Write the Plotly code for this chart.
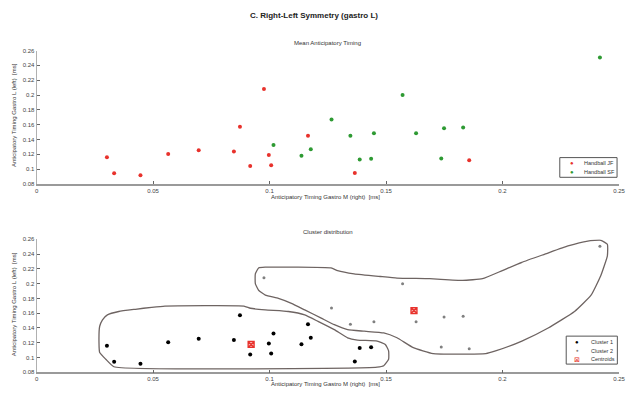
import plotly.graph_objects as go

# ---------------- data ----------------
jf_x = [0.0302, 0.0333, 0.0446, 0.0565, 0.0696, 0.0847, 0.0873, 0.0917, 0.0976, 0.0997, 0.1007, 0.1165, 0.1366, 0.1857]
jf_y = [0.116, 0.0943, 0.0916, 0.1205, 0.1253, 0.1236, 0.1573, 0.104, 0.208, 0.119, 0.1053, 0.145, 0.0947, 0.112]
jf_cluster = [1, 1, 1, 1, 1, 1, 1, 1, 2, 1, 1, 1, 1, 2]

sf_x = [0.1017, 0.1137, 0.1177, 0.1266, 0.1347, 0.1387, 0.1436, 0.1448, 0.1571, 0.1629, 0.1737, 0.1749, 0.1831, 0.2418]
sf_y = [0.1325, 0.118, 0.1267, 0.167, 0.145, 0.113, 0.1139, 0.1485, 0.200, 0.1485, 0.1143, 0.155, 0.156, 0.2507]
sf_cluster = [1, 1, 1, 2, 2, 1, 1, 2, 2, 2, 2, 2, 2, 2]

centroid_x = [0.0921, 0.1620]
centroid_y = [0.1177, 0.1636]

contour1_x = [0.0332, 0.0297, 0.0271, 0.0268, 0.0271, 0.0283, 0.0304, 0.0353, 0.0424, 0.0494, 0.0551,
              0.0890, 0.0918, 0.0982, 0.1081, 0.1151, 0.1208, 0.1278, 0.1335, 0.1377, 0.1462, 0.1497,
              0.1511, 0.1511, 0.1490, 0.1462, 0.0332]
contour1_y = [0.0875, 0.0977, 0.1067, 0.1200, 0.1423, 0.1511, 0.1577, 0.1623, 0.1653, 0.1680, 0.1697,
              0.1697, 0.1667, 0.1644, 0.1623, 0.1577, 0.1489, 0.1377, 0.1267, 0.1236, 0.1223, 0.1177,
              0.1089, 0.0977, 0.0889, 0.0870, 0.0875]

contour2_x = [0.0953, 0.0939, 0.0939, 0.0953, 0.0982, 0.1038, 0.1094, 0.1151, 0.1222, 0.1278, 0.1335,
              0.1406, 0.1490, 0.1547, 0.1617, 0.1702, 0.1928, 0.1970, 0.2083, 0.2196, 0.2309, 0.2380,
              0.2422, 0.2450, 0.2450, 0.2422, 0.2366, 0.2281, 0.2182, 0.2083, 0.1999, 0.1914, 0.1829,
              0.1688, 0.1547, 0.1476, 0.1363, 0.1292, 0.1264, 0.0982, 0.0953]
contour2_y = [0.2213, 0.2133, 0.2000, 0.1911, 0.1844, 0.1800, 0.1733, 0.1644, 0.1533, 0.1444, 0.1377,
              0.1356, 0.1333, 0.1267, 0.1133, 0.1053, 0.1053, 0.1089, 0.1223, 0.1400, 0.1623, 0.1844,
              0.2111, 0.2377, 0.2533, 0.2587, 0.2577, 0.2511, 0.2400, 0.2289, 0.2177, 0.2067, 0.2044,
              0.2067, 0.2076, 0.2097, 0.2133, 0.2177, 0.2213, 0.2223, 0.2213]

x_ticks = [0, 0.05, 0.1, 0.15, 0.2, 0.25]
x_ticklabels = ["0", "0.05", "0.1", "0.15", "0.2", "0.25"]
y_ticks = [0.08, 0.1, 0.12, 0.14, 0.16, 0.18, 0.2, 0.22, 0.24, 0.26]
y_ticklabels = ["0.08", "0.1", "0.12", "0.14", "0.16", "0.18", "0.2", "0.22", "0.24", "0.26"]

main_title = "C. Right-Left Symmetry (gastro L)"
top_title = "Mean Anticipatory Timing"
bottom_title = "Cluster distribution"
x_title = "Anticipatory Timing Gastro M (right)  [ms]"
y_title = "Anticipatory Timing Gastro L (left)  [ms]"
top_legend_names = ["Handball JF", "Handball SF"]
bottom_legend_names = ["Cluster 1", "Cluster 2", "Centroids"]

# ---------------- figure ----------------
W, H = 627, 393
FONT = "Liberation Sans, Arial, sans-serif"
RED = "#e8322c"
GREEN = "#2e9a33"
GRAY = "#808080"
CONTOUR = "#6e6462"

all_x = jf_x + sf_x
all_y = jf_y + sf_y
all_c = jf_cluster + sf_cluster
c1_x = [x for x, c in zip(all_x, all_c) if c == 1]
c1_y = [y for y, c in zip(all_y, all_c) if c == 1]
c2_x = [x for x, c in zip(all_x, all_c) if c == 2]
c2_y = [y for y, c in zip(all_y, all_c) if c == 2]

fig = go.Figure()

# top panel
fig.add_trace(go.Scatter(x=jf_x, y=jf_y, mode="markers", name=top_legend_names[0],
                         marker=dict(color=RED, size=4), xaxis="x", yaxis="y"))
fig.add_trace(go.Scatter(x=sf_x, y=sf_y, mode="markers", name=top_legend_names[1],
                         marker=dict(color=GREEN, size=4), xaxis="x", yaxis="y"))

# bottom panel
for cx, cy in ((contour1_x, contour1_y), (contour2_x, contour2_y)):
    fig.add_trace(go.Scatter(x=cx, y=cy, mode="lines",
                             line=dict(color=CONTOUR, width=1.3, shape="spline", smoothing=0.4),
                             xaxis="x2", yaxis="y2", hoverinfo="skip"))
fig.add_trace(go.Scatter(x=c1_x, y=c1_y, mode="markers", name=bottom_legend_names[0],
                         marker=dict(color="#000000", size=4), xaxis="x2", yaxis="y2"))
fig.add_trace(go.Scatter(x=c2_x, y=c2_y, mode="markers", name=bottom_legend_names[1],
                         marker=dict(color=GRAY, size=3), xaxis="x2", yaxis="y2"))
fig.add_trace(go.Scatter(x=centroid_x, y=centroid_y, mode="markers", name=bottom_legend_names[2],
                         marker=dict(color="rgba(232,50,44,0.35)", size=6, symbol="square-x",
                                     line=dict(color=RED, width=1.3)),
                         xaxis="x2", yaxis="y2"))

x_dom = [35 / W, 625 / W]
top_dom = [(H - 183.7) / H, (H - 48.3) / H]
bot_dom = [(H - 375) / H, (H - 240) / H]

axis_common = dict(showgrid=False, zeroline=False, showline=True, linecolor="#9a9a9a", linewidth=1.5,
                   ticks="inside", ticklen=3, tickcolor="#666", tickwidth=1,
                   tickfont=dict(family=FONT, size=6, color="#444"), mirror=False,
                   ticklabeloverflow="allow")
y_axis_extra = dict(linewidth=1, linecolor="#b0b0b0")

fig.update_layout(
    width=W, height=H, margin=dict(l=0, r=0, t=0, b=0),
    paper_bgcolor="white", plot_bgcolor="white",
    font=dict(family=FONT, size=6, color="#333"),
    showlegend=False,
    xaxis=dict(domain=x_dom, anchor="y", range=[0, 0.25], tickvals=x_ticks, ticktext=x_ticklabels, **axis_common),
    yaxis=dict(domain=top_dom, anchor="x", range=[0.08, 0.26], tickvals=y_ticks, ticktext=y_ticklabels,
               **{**axis_common, **y_axis_extra}),
    xaxis2=dict(domain=x_dom, anchor="y2", range=[0, 0.25], tickvals=x_ticks, ticktext=x_ticklabels, **axis_common),
    yaxis2=dict(domain=bot_dom, anchor="x2", range=[0.08, 0.26], tickvals=y_ticks, ticktext=y_ticklabels,
                **{**axis_common, **y_axis_extra}),
)

def px(xp):
    return xp / W

def py(yp):
    return (H - yp) / H

ann = [
    dict(text="<b>" + main_title + "</b>", x=px(316), y=py(12.5), font=dict(size=8, color="#222")),
    dict(text=top_title, x=px(330), y=py(41), font=dict(size=6, color="#333")),
    dict(text=bottom_title, x=px(330), y=py(233), font=dict(size=6, color="#333")),
    dict(text=x_title, x=px(328), y=py(197), font=dict(size=6, color="#333")),
    dict(text=x_title, x=px(328), y=py(387), font=dict(size=6, color="#333")),
    dict(text=y_title, x=px(12), y=py(114), textangle=-90, font=dict(size=6, color="#333")),
    dict(text=y_title, x=px(12), y=py(306), textangle=-90, font=dict(size=6, color="#333")),
]

shapes = []
# top legend (box + entries)
shapes.append(dict(type="rect", xref="paper", yref="paper", x0=px(565), x1=px(623), y0=py(177), y1=py(157),
                   line=dict(color="#555", width=1), fillcolor="white", layer="above"))
top_leg_sym = [("●", RED, 6), ("●", GREEN, 6)]
for i, (name, (sym, col, fs)) in enumerate(zip(top_legend_names, top_leg_sym)):
    yy = py(162.5 + i * 9.3)
    ann.append(dict(text=sym, x=px(577), y=yy, font=dict(size=fs, color=col)))
    ann.append(dict(text=name, x=px(588), y=yy, xanchor="left", font=dict(size=5.5, color="#333")))

# bottom legend
shapes.append(dict(type="rect", xref="paper", yref="paper", x0=px(571.5), x1=px(623.3), y0=py(366.7), y1=py(338.3),
                   line=dict(color="#555", width=1), fillcolor="white", layer="above"))
bot_leg_sym = [("●", "#000000", 6), ("●", GRAY, 4.5), ("⊠", RED, 7)]
for i, (name, (sym, col, fs)) in enumerate(zip(bottom_legend_names, bot_leg_sym)):
    yy = py(344.3 + i * 8.7)
    ann.append(dict(text=sym, x=px(582.7), y=yy, font=dict(size=fs, color=col)))
    ann.append(dict(text=name, x=px(595), y=yy, xanchor="left", font=dict(size=5.5, color="#333")))

for a in ann:
    a.setdefault("xanchor", "center")
    a.update(xref="paper", yref="paper", showarrow=False, yanchor="middle")
    a["font"]["family"] = FONT
fig.update_layout(annotations=ann, shapes=shapes)

fig.write_html("out.html")
